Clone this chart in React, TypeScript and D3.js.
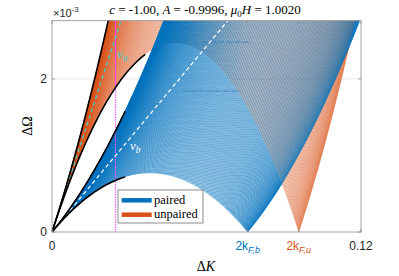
import React from 'react';
import * as d3 from 'd3';

// band parameters
const bandNames = ['paired', 'unpaired'];
const fermiMomenta = [0.038, 0.0479];      // k_F,b , k_F,u
const bandCurvatures = [0.532, 1.075];     // 1/(2m) for each band
const lineCounts = [320, 260];             // continuum lines drawn per band
const bandColors = ['#0072BD', '#D95319'];
const lineWidths = [0.6, 0.5];
const cosMix = 0.75;                       // k spacing: mix of cosine and uniform

// black edge curves: how far (in dK) each one is drawn [upper, lower]
const edgeUpperEnd = [0.0284, 0.03];
const edgeLowerEnd = [0.0284, 0.0362];

const markerK = 0.0243;
const levelOmega = [0.00248, 0.00184];
const levelStart = [0.0586, 0.0509];
const levelEnd = [0.0769, 0.073];

const xMax = 0.12;
const yMax = 0.00276;
const yTickValues = [0, 0.002];
const yTickLabels = ['0', '2'];

const W = 399;
const H = 276;
const left = 52, right = 361, top = 20.7, bottom = 232;

const x = d3.scaleLinear().domain([0, xMax]).range([left, right]);
const y = d3.scaleLinear().domain([0, yMax]).range([bottom, top]);

const line = d3.line<[number, number]>().x(d => x(d[0])).y(d => y(d[1]));

function sample(f: (q: number) => number, q0: number, q1: number, n = 36): [number, number][] {
  const pts: [number, number][] = [];
  for (let i = 0; i <= n; i++) {
    const q = q0 + (q1 - q0) * i / n;
    pts.push([q, f(q)]);
  }
  return pts;
}

// each line: omega = a (2 k q + q^2), k in [-kF, kF], q >= kF - k
function bandLines(b: number): string[] {
  const kF = fermiMomenta[b];
  const a = bandCurvatures[b];
  const n = lineCounts[b];
  const out: string[] = [];
  for (let i = 0; i <= n; i++) {
    const s = i / n;
    const k = kF * (cosMix * Math.cos(Math.PI * s) + (1 - cosMix) * (1 - 2 * s));
    const q0 = kF - k;
    const qTop = -k + Math.sqrt(k * k + (yMax * 1.03) / a);
    const q1 = Math.min(xMax * 1.01, qTop);
    if (q1 <= q0) continue;
    out.push(line(sample(q => a * (2 * k * q + q * q), q0, q1, 24)) as string);
  }
  return out;
}

const axisColor = '#8c8c8c';
const textColor = '#262626';
const sans = 'Liberation Sans, Arial, sans-serif';
const serif = 'Liberation Serif, Times New Roman, serif';

export default function App() {
  const kFb = fermiMomenta[0], kFu = fermiMomenta[1];
  const ab = bandCurvatures[0], au = bandCurvatures[1];
  const vb = 2 * ab * kFb, vu = 2 * au * kFu;
  const blueLines = bandLines(0);
  const orangeLines = bandLines(1);

  const upper = (b: number) => (q: number) => bandCurvatures[b] * (2 * fermiMomenta[b] * q + q * q);
  const lower = (b: number) => (q: number) => bandCurvatures[b] * (2 * fermiMomenta[b] * q - q * q);

  // orange lower edge splits the blue continuum into an overlap part and a pure part
  const orangeFloor = sample(q => Math.abs(lower(1)(q)), 0, xMax, 80);
  const floorPath = line(orangeFloor) as string;
  const yEnd = y(orangeFloor[orangeFloor.length - 1][1]);
  const aboveClip = `${floorPath}L${x(xMax) + 2},${yEnd}L${x(xMax) + 2},${top - 2}L${left - 2},${top - 2}Z`;
  const belowClip = `${floorPath}L${x(xMax) + 2},${yEnd}L${x(xMax) + 2},${bottom + 2}L${left - 2},${bottom + 2}Z`;

  const xTicks = [0, 2 * kFb, 2 * kFu, xMax];
  const markerOmega = lower(1)(markerK);
  const mx = Math.round(x(markerK)) + 0.5;

  return (
    <svg width={W} height={H} style={{ position: 'absolute', left: 0, top: 0, background: '#fff' }}>
      <defs>
        <clipPath id="plot">
          <rect x={left} y={top} width={right - left} height={bottom - top} />
        </clipPath>
        <clipPath id="above"><path d={aboveClip} /></clipPath>
        <clipPath id="below"><path d={belowClip} /></clipPath>
        <linearGradient id="blueFade" gradientUnits="userSpaceOnUse" x1={185} x2={245} y1={0} y2={0}>
          <stop offset="0" stopColor={bandColors[0]} stopOpacity={1} />
          <stop offset="1" stopColor={bandColors[0]} stopOpacity={0.6} />
        </linearGradient>
      </defs>

      {/* grid */}
      {yTickValues.slice(1).map(v => (
        <line key={v} x1={left} x2={right} y1={y(v)} y2={y(v)} stroke="#e3e3e3" strokeWidth={0.8} />
      ))}

      <g clipPath="url(#plot)">
        {orangeLines.map((d, i) => (
          <path key={'o' + i} d={d} fill="none" stroke={bandColors[1]} strokeWidth={lineWidths[1]} />
        ))}
        <g clipPath="url(#below)">
          {blueLines.map((d, i) => (
            <path key={'b' + i} d={d} fill="none" stroke={bandColors[0]} strokeWidth={lineWidths[0]} />
          ))}
        </g>
        <g clipPath="url(#above)">
          {blueLines.map((d, i) => (
            <path key={'a' + i} d={d} fill="none" stroke="url(#blueFade)" strokeWidth={0.7} />
          ))}
        </g>

        {/* faint level lines */}
        {levelOmega.map((w, i) => (
          <line key={'l' + i} x1={x(levelStart[i])} x2={x(levelEnd[i])} y1={y(w)} y2={y(w)}
            stroke="#2a6fb4" strokeWidth={0.8} strokeDasharray="5 1 1 1" opacity={0.85} />
        ))}

        {/* magenta marker */}
        <line x1={mx} x2={mx} y1={y(yMax)} y2={y(markerOmega)} stroke="#ff3cff" strokeWidth={1} />
        <line x1={mx} x2={mx} y1={y(markerOmega)} y2={y(0)} stroke="#ff55ff" strokeWidth={1.2} strokeDasharray="1.5 1" />

        {/* velocity lines */}
        <path d={line(sample(q => vu * q, 0, yMax / vu, 2)) as string} fill="none" stroke="#3fd4d4" strokeWidth={1.2} strokeDasharray="4 3" />
        <path d={line(sample(q => vb * q, 0, yMax / vb, 2)) as string} fill="none" stroke="#ffffff" strokeWidth={1.2} strokeDasharray="4 3" />

        {/* black edge curves */}
        {[0, 1].map(b => (
          <g key={'e' + b}>
            <path d={line(sample(upper(b), 0, edgeUpperEnd[b])) as string} fill="none" stroke="#000" strokeWidth={1.6} />
            <path d={line(sample(lower(b), 0, edgeLowerEnd[b])) as string} fill="none" stroke="#000" strokeWidth={1.6} />
          </g>
        ))}
      </g>

      {/* velocity labels */}
      <text x={117} y={58} fill="#45d2d2" fontFamily={serif} fontSize={13} fontStyle="italic">
        v<tspan dy={2.5} fontSize={9.5}>u</tspan>
      </text>
      <text x={130} y={150} fill="#ffffff" fontFamily={serif} fontSize={13} fontStyle="italic">
        v<tspan dy={2.5} fontSize={9.5}>b</tspan>
      </text>

      {/* axes box */}
      <rect x={left} y={top} width={right - left} height={bottom - top} fill="none" stroke={axisColor} strokeWidth={0.8} />
      {yTickValues.map(v => (
        <g key={'yt' + v}>
          <line x1={left} x2={left + 3} y1={y(v)} y2={y(v)} stroke={axisColor} strokeWidth={0.8} />
          <line x1={right} x2={right - 3} y1={y(v)} y2={y(v)} stroke={axisColor} strokeWidth={0.8} />
        </g>
      ))}
      {xTicks.map(v => (
        <g key={'xt' + v}>
          <line x1={x(v)} x2={x(v)} y1={bottom} y2={bottom - 3} stroke={axisColor} strokeWidth={0.8} />
          <line x1={x(v)} x2={x(v)} y1={top} y2={top + 3} stroke={axisColor} strokeWidth={0.8} />
        </g>
      ))}

      {/* tick labels */}
      {yTickValues.map((v, i) => (
        <text key={'yl' + v} x={47} y={y(v) + 4.3} textAnchor="end" fontFamily={sans} fontSize={12} fill={textColor}>
          {yTickLabels[i]}
        </text>
      ))}
      <text x={x(0)} y={249.5} textAnchor="middle" fontFamily={sans} fontSize={12} fill={textColor}>0</text>
      <text x={x(xMax)} y={249.5} textAnchor="middle" fontFamily={sans} fontSize={12} fill={textColor}>0.12</text>
      <text x={x(2 * kFb)} y={249.5} textAnchor="middle" fontFamily={sans} fontSize={12} fill={bandColors[0]}>
        2k<tspan dy={3.5} fontSize={9} fontStyle="italic">F,b</tspan>
      </text>
      <text x={x(2 * kFu)} y={249.5} textAnchor="middle" fontFamily={sans} fontSize={12} fill={bandColors[1]}>
        2k<tspan dy={3.5} fontSize={9} fontStyle="italic">F,u</tspan>
      </text>

      {/* exponent */}
      <text x={53} y={17} fontFamily={sans} fontSize={11} fill={textColor}>
        ×10<tspan dy={-5} fontSize={8}>-3</tspan>
      </text>

      {/* title */}
      <text x={205} y={14} textAnchor="middle" fontFamily={serif} fontSize={13} fill="#000">
        <tspan fontStyle="italic">c</tspan> = -1.00, <tspan fontStyle="italic">A</tspan> = -0.9996, <tspan fontStyle="italic">μ</tspan><tspan dy={2.5} fontSize={9}>0</tspan><tspan dy={-2.5} fontStyle="italic">H</tspan> = 1.0020
      </text>

      {/* axis labels */}
      <text x={206} y={271} textAnchor="middle" fontFamily={serif} fontSize={14} fill="#000">
        Δ<tspan fontStyle="italic">K</tspan>
      </text>
      <text x={32} y={126} textAnchor="middle" fontFamily={serif} fontSize={14} fill="#000" transform="rotate(-90, 32, 126)">
        ΔΩ
      </text>

      {/* legend */}
      <rect x={118} y={190} width={85} height={33} fill="#fff" stroke="#6e6e6e" strokeWidth={0.8} />
      {bandNames.map((name, i) => (
        <g key={name}>
          <line x1={121.7} x2={151.7} y1={200.3 + i * 14.4} y2={200.3 + i * 14.4} stroke={bandColors[i]} strokeWidth={4.5} />
          <text x={154} y={204 + i * 14.4} fontFamily={serif} fontSize={12.5} fill="#000">{name}</text>
        </g>
      ))}
    </svg>
  );
}
